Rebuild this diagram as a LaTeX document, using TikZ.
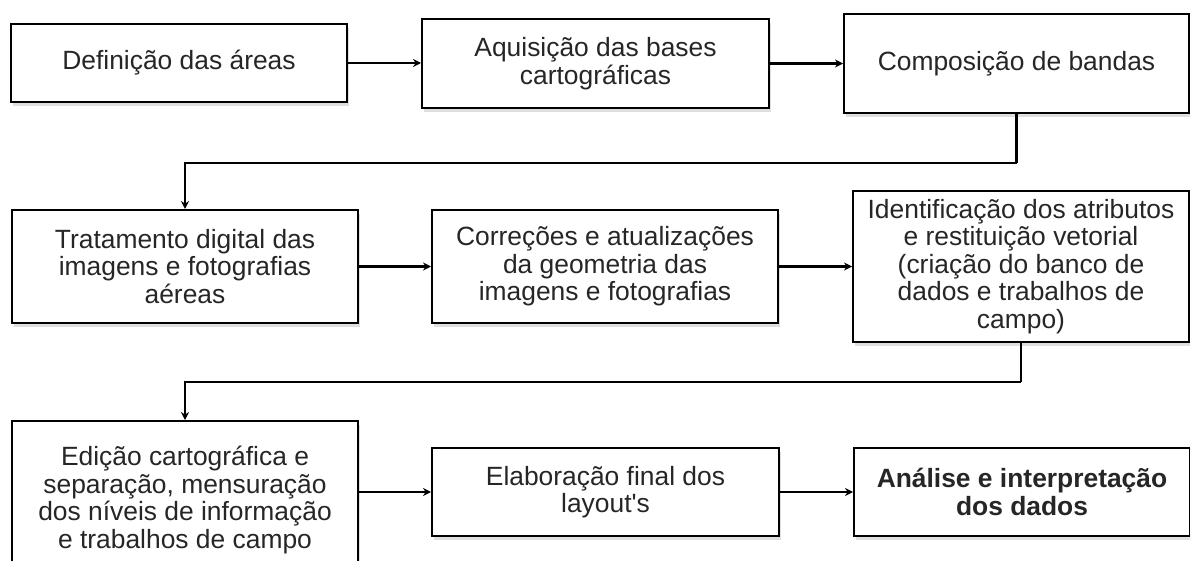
\documentclass[tikz,border=0pt]{standalone}
\usepackage{fontspec}
\setmainfont{Liberation Sans}
\usetikzlibrary{arrows.meta,shadows}
\definecolor{txt}{HTML}{262626}
\tikzset{
  box/.style={draw=black, line width=2pt, fill=white, inner sep=0pt, align=center,
    text=txt, font=\fontsize{26.4}{27.6}\selectfont,
    drop shadow={shadow xshift=2pt, shadow yshift=-4pt, opacity=0.25, fill=gray}},
  conn/.style={line width=2.2pt, -{Stealth[length=8pt,width=8pt]}},
  link/.style={line width=2.2pt}
}
\begin{document}
\begin{tikzpicture}[x=1pt,y=-1pt]
\useasboundingbox (0,0) rectangle (1190,561);
\clip (0,0) rectangle (1190,561);
\node[box, minimum width=336pt, minimum height=78pt] (b1) at (179,63) {Definição das áreas};
\node[box, minimum width=347pt, minimum height=89pt] (b2) at (595.5,63.5) {Aquisição das bases\\cartográficas};
\node[box, minimum width=345pt, minimum height=99pt] (b3) at (1016.5,63.5) {Composição de bandas};
\node[box, minimum width=346pt, minimum height=113pt] (b4) at (185,266.5) {Tratamento digital das\\imagens e fotografias\\aéreas};
\node[box, minimum width=346pt, minimum height=113pt] (b5) at (605,266.5) {Correções e atualizações\\da geometria das\\imagens e fotografias};
\node[box, minimum width=336pt, minimum height=151pt] (b6) at (1021,266.5) {Identificação dos atributos\\e restituição vetorial\\(criação do banco de\\dados e trabalhos de\\campo)};
\node[box, minimum width=346pt, minimum height=158pt] (b7) at (185,500) {Edição cartográfica e\\separação, mensuração\\dos níveis de informação\\e trabalhos de campo};
\node[box, minimum width=347pt, minimum height=88pt] (b8) at (605.5,492) {Elaboração final dos\\layout\textquotesingle s};
\node[box, minimum width=336pt, minimum height=88pt, font=\fontsize{26.4}{27.6}\selectfont\bfseries] (b9) at (1022,492) {Análise e interpretação\\dos dados};

\draw[conn] (b1.east) -- (b2.west |- b1.east);
\draw[conn] (b2.east) -- (b3.west |- b2.east);
\draw[link] (b3.south) -- ++(0,49) coordinate (t1);
\draw[conn] (t1) -| (b4.north);
\draw[conn] (b4.east) -- (b5.west);
\draw[conn] (b5.east) -- (b6.west);
\draw[link] (b6.south) -- ++(0,39) coordinate (t2);
\draw[conn] (t2) -| (b7.north);
\draw[conn] (b8.west -| b7.east) -- (b8.west);
\draw[conn] (b8.east) -- (b9.west);
\end{tikzpicture}
\end{document}
